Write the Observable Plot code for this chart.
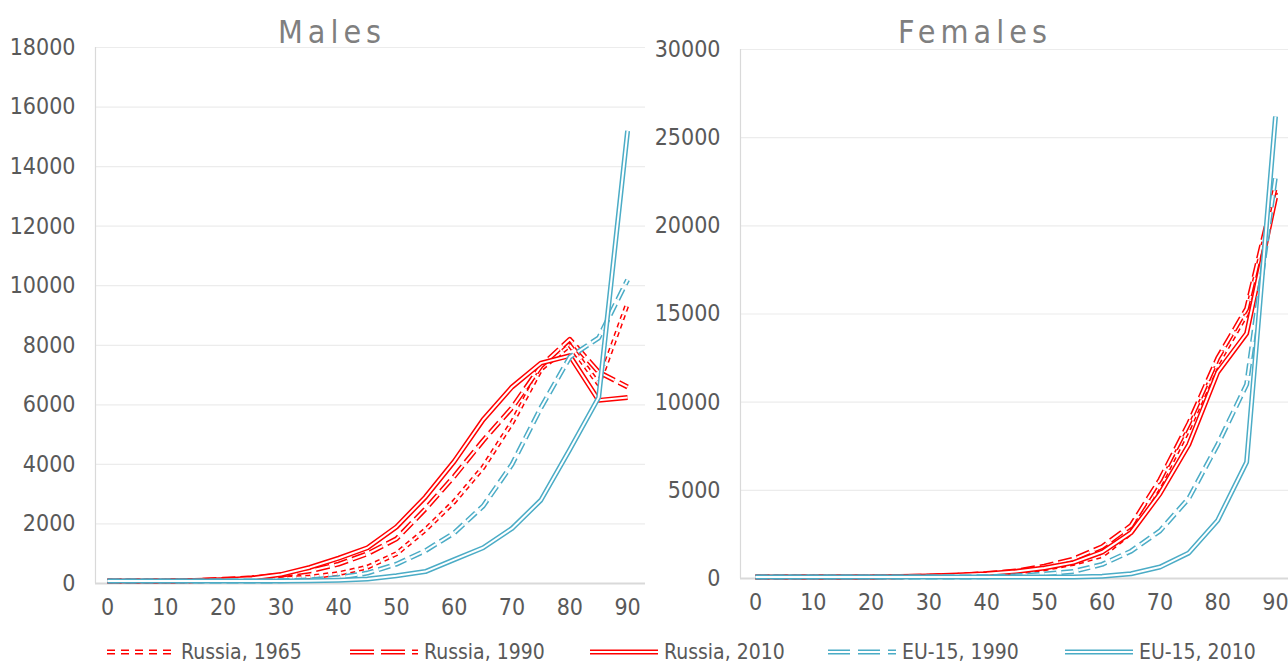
<!DOCTYPE html>
<html>
<head>
<meta charset="utf-8">
<script src="https://cdn.jsdelivr.net/npm/d3@7"></script>
<script src="https://cdn.jsdelivr.net/npm/@observablehq/plot@0.6"></script>
<style>
  body { margin: 0; background: #fff; }
  #wrap { position: relative; width: 1288px; height: 664px; overflow: hidden; background: #fff;
          font-family: "Liberation Sans Narrow", "Arial Narrow", "DejaVu Sans Condensed", "Liberation Sans", sans-serif; }
  .panel { position: absolute; top: 0; }
  .title { position: absolute; top: 13px; font-size: 32px; letter-spacing: 5px; color: #7f7f7f; white-space: nowrap; transform: translateX(-50%); }
  #legend { position: absolute; left: 0; top: 639px; }
</style>
</head>
<body>
<div id="wrap">
  <div id="males" class="panel" style="left:0px"></div>
  <div id="females" class="panel" style="left:645px"></div>
  <div class="title" style="left:332px">Males</div>
  <div class="title" style="left:975px">Females</div>
  <div id="legend"></div>
</div>
<script>
// ---------- data ----------
const ages = [0, 5, 10, 15, 20, 25, 30, 35, 40, 45, 50, 55, 60, 65, 70, 75, 80, 85, 90];
const seriesNames = ["Russia, 1965", "Russia, 1990", "Russia, 2010", "EU-15, 1990", "EU-15, 2010"];
const seriesColors = ["#ff0000", "#ff0000", "#ff0000", "#4bacc6", "#4bacc6"];
const seriesDash = ["5,4", "14,5", null, "12,5", null];
const legendDash = ["8,6", "24,7", null, "22,8", null];

const malesRussia1965 = [80, 80, 80, 90, 110, 130, 160, 220, 330, 550, 1000, 1800, 2750, 3900, 5400, 7200, 8000, 6700, 9400];
const malesRussia1990 = [80, 80, 80, 100, 140, 190, 280, 420, 650, 1000, 1500, 2500, 3600, 4800, 5900, 7300, 8200, 7100, 6600];
const malesRussia2010 = [80, 80, 80, 100, 130, 180, 300, 540, 850, 1200, 1900, 2900, 4100, 5500, 6600, 7400, 7650, 6150, 6250];
const malesEU1990 = [80, 80, 80, 80, 80, 80, 90, 120, 200, 350, 650, 1100, 1700, 2600, 4000, 5900, 7600, 8250, 10200];
const malesEU2010 = [80, 80, 80, 80, 80, 80, 80, 90, 110, 150, 260, 400, 800, 1200, 1850, 2800, 4500, 6250, 15200];

const femalesRussia1965 = [80, 80, 80, 80, 90, 100, 120, 160, 230, 350, 550, 850, 1300, 2600, 5300, 8500, 12200, 15000, 21900];
const femalesRussia1990 = [80, 80, 80, 80, 90, 100, 130, 180, 280, 420, 700, 1100, 1800, 3000, 5600, 8800, 12500, 15300, 22200];
const femalesRussia2010 = [80, 80, 80, 80, 90, 110, 140, 200, 270, 400, 600, 900, 1500, 2600, 4800, 7600, 11700, 13900, 21600];
const femalesEU1990 = [80, 80, 80, 80, 80, 80, 80, 80, 100, 150, 250, 400, 800, 1550, 2700, 4550, 7600, 11000, 22800];
const femalesEU2010 = [80, 80, 80, 80, 80, 80, 80, 80, 80, 80, 90, 90, 130, 270, 650, 1450, 3300, 6600, 26200];

const xTicks = [0, 10, 20, 30, 40, 50, 60, 70, 80, 90];
const malesYTicks = [0, 2000, 4000, 6000, 8000, 10000, 12000, 14000, 16000, 18000];
const femalesYTicks = [0, 5000, 10000, 15000, 20000, 25000, 30000];

// ---------- drawing ----------
const FONT = '"Liberation Sans Narrow", "Arial Narrow", "DejaVu Sans Condensed", "Liberation Sans", sans-serif';
const OUTER = 5, INNER = 2;

function seriesMarks(seriesValues) {
  const marks = [];
  seriesValues.forEach((vals, i) => {
    const data = ages.map((a, j) => ({age: a, v: vals[j]}));
    const dash = seriesDash[i] || undefined;
    marks.push(Plot.line(data, {x: "age", y: "v", stroke: seriesColors[i], strokeWidth: OUTER, strokeDasharray: dash, strokeLinejoin: "round", strokeLinecap: "butt"}));
    marks.push(Plot.line(data, {x: "age", y: "v", stroke: "#ffffff", strokeWidth: INNER, strokeDasharray: dash, strokeLinejoin: "round", strokeLinecap: "butt"}));
  });
  return marks;
}

function panel(cfg) {
  return Plot.plot({
    width: cfg.width, height: 640,
    marginLeft: 95, marginRight: cfg.marginRight, marginTop: cfg.marginTop, marginBottom: cfg.marginBottom,
    style: {fontFamily: FONT, fontSize: "23px", color: "#595959", background: "transparent", overflow: "visible"},
    x: {domain: cfg.xDomain, ticks: xTicks, tickSize: 0, tickPadding: 15, tickFormat: d => String(d), label: null},
    y: {domain: cfg.yDomain, ticks: cfg.yTicks, tickSize: 0, tickPadding: 20, tickFormat: d => String(d), label: null},
    marks: [
      Plot.gridY(cfg.yTicks, {stroke: "#ececec", strokeOpacity: 1, strokeWidth: 1.2}),
      Plot.ruleX([cfg.xDomain[0]], {stroke: "#d9d9d9", strokeWidth: 1.2}),
      Plot.ruleY([0], {stroke: "#d9d9d9", strokeWidth: 2}),
      ...seriesMarks(cfg.series)
    ]
  });
}

document.getElementById("males").append(panel({
  width: 650, marginRight: 5, marginTop: 47, marginBottom: 57,
  xDomain: [-2.08, 93.1], yDomain: [0, 18000], yTicks: malesYTicks,
  series: [malesRussia1965, malesRussia1990, malesRussia2010, malesEU1990, malesEU2010]
}));

document.getElementById("females").append(panel({
  width: 643, marginRight: 0, marginTop: 49, marginBottom: 62,
  xDomain: [-2.6, 92.25], yDomain: [0, 30000], yTicks: femalesYTicks,
  series: [femalesRussia1965, femalesRussia1990, femalesRussia2010, femalesEU1990, femalesEU2010]
}));

// ---------- legend ----------
const legendX = [107, 350, 590, 828, 1065];
const swatchLen = 68;
const lg = d3.select("#legend").append("svg").attr("width", 1288).attr("height", 26)
  .style("font-family", FONT).style("font-size", "21px").style("fill", "#595959");
seriesNames.forEach((name, i) => {
  const g = lg.append("g").attr("transform", `translate(${legendX[i]},13)`);
  g.append("line").attr("x1", 0).attr("x2", swatchLen).attr("y1", 0).attr("y2", 0)
    .attr("stroke", seriesColors[i]).attr("stroke-width", OUTER).attr("stroke-dasharray", legendDash[i]);
  g.append("line").attr("x1", 0).attr("x2", swatchLen).attr("y1", 0).attr("y2", 0)
    .attr("stroke", "#fff").attr("stroke-width", INNER).attr("stroke-dasharray", legendDash[i]);
  g.append("text").attr("x", swatchLen + 6).attr("y", 0).attr("dy", "0.35em").text(name);
});
</script>
</body>
</html>
